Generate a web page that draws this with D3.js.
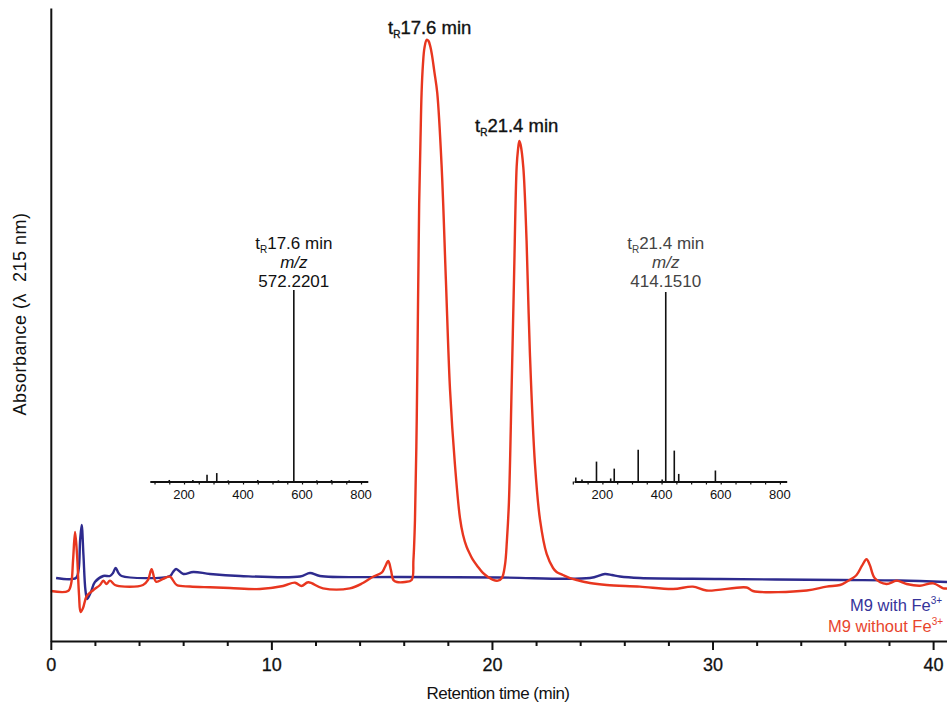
<!DOCTYPE html>
<html>
<head>
<meta charset="utf-8">
<script src="https://cdn.jsdelivr.net/npm/d3@7"></script>
<style>
  html, body { margin: 0; padding: 0; background: #fff; }
  svg { display: block; font-family: "Liberation Sans", Arial, sans-serif; }
</style>
</head>
<body>
<svg id="chart" width="947" height="702"></svg>
<script>
// ---------- DATA ----------
// Chromatogram: [retention time (min), absorbance (arbitrary units)]
const redSeries = [
  [0.00,7.92],[0.78,7.92],[0.92,9.03],[1.01,12.84],[1.10,17.27],[1.19,13.63],[1.28,7.29],[1.35,4.60],
  [1.46,5.23],[1.63,7.13],[1.93,8.08],[2.23,8.87],[2.38,9.56],[2.53,9.03],[2.68,9.56],[2.91,8.87],
  [3.36,8.61],[4.18,8.87],[4.41,9.67],[4.57,11.36],[4.77,9.40],[5.09,9.83],[5.40,10.19],[5.71,8.87],
  [6.31,8.64],[7.22,8.51],[8.12,8.40],[9.48,8.24],[10.53,8.72],[11.07,9.24],[11.37,8.72],[11.67,9.30],
  [12.34,8.35],[13.56,8.35],[14.15,9.19],[14.61,10.19],[15.00,10.82],[15.15,11.73],[15.30,12.68],
  [15.42,11.25],[15.53,9.67],[15.69,9.35],[16.06,9.35],[16.36,9.67],[16.44,12.84],[16.51,19.18],
  [16.59,35.02],[16.65,54.04],[16.70,69.26],[16.76,79.40],[16.81,86.85],[16.87,91.28],[16.94,93.98],
  [17.04,95.25],[17.12,95.09],[17.21,94.14],[17.28,92.87],[17.39,90.17],[17.52,86.85],[17.72,75.12],
  [17.91,57.37],[18.10,39.78],[18.32,28.05],[18.55,19.49],[18.69,16.80],[18.85,14.94],[19.00,13.79],
  [19.14,12.84],[19.37,11.73],[19.59,10.78],[19.82,10.14],[20.05,9.67],[20.27,9.56],[20.45,9.98],
  [20.59,12.04],[20.68,16.01],[20.77,22.03],[20.89,39.78],[21.00,57.37],[21.12,75.12],[21.18,77.81],
  [21.24,79.24],[21.30,78.61],[21.42,75.12],[21.57,63.39],[21.72,45.64],[21.95,28.05],[22.18,19.18],
  [22.48,13.79],[22.77,11.57],[22.93,10.94],[23.22,10.46],[23.54,9.98],[23.85,9.67],[24.44,9.19],
  [25.20,8.87],[26.71,8.61],[28.21,8.24],[29.11,8.61],[29.73,8.00],[31.55,8.48],[31.83,7.92],
  [34.27,8.00],[35.17,8.61],[35.78,8.87],[36.08,9.40],[36.53,10.46],[36.77,11.89],[36.98,12.95],
  [37.13,12.04],[37.36,9.94],[37.89,9.03],[38.35,9.56],[38.80,9.03],[39.40,8.76],[40.01,9.14],
  [40.46,8.35],[40.63,8.32]
];
const blueSeries = [
  [0.24,9.98],[1.14,9.98],[1.26,11.25],[1.33,16.01],[1.40,18.38],[1.48,13.63],[1.57,8.08],[1.65,6.66],
  [1.82,7.77],[2.00,9.35],[2.38,10.30],[2.68,10.30],[2.82,10.78],[2.94,11.57],[3.07,10.78],[3.21,10.30],
  [5.40,10.30],[5.54,10.94],[5.68,11.41],[6.01,10.62],[6.46,10.94],[7.22,10.62],[8.58,10.30],
  [11.30,10.22],[11.75,10.78],[12.20,10.30],[15.83,10.14],[20.36,10.06],[24.44,9.98],[25.12,10.62],
  [25.44,10.46],[25.80,10.22],[26.71,9.98],[30.34,9.83],[35.78,9.67],[38.49,9.59],[40.63,9.35]
];
const xMajorTicks = [0, 10, 20, 30, 40];
const xMinorTicks = [2, 4, 6, 8, 12, 14, 16, 18, 22, 24, 26, 28, 32, 34, 36, 38];

// Mass spectra insets: [m/z, relative intensity]
const spectrum1 = [
  [150,0.8],[230,0.8],[278,3.5],[311,4.4],[350,0.6],[450,0.8],[520,0.6],[572.2201,100],[650,0.6],[700,0.8],[760,0.6]
];
const spectrum2 = [
  [110,2.1],[131,1.0],[180,10.5],[228,1.6],[240,6.8],[321,16.8],[402,1.0],[414.1510,100],[443,16.3],[458,4.0],[582,5.8]
];
const msTickLabels = [200, 400, 600, 800];
const msTicks = d3.range(100, 801, 50);

const peakLabels = [
  {t: 17.6, text: "17.6 min"},
  {t: 21.4, text: "21.4 min"}
];
const insetTexts = [
  {tr: "17.6 min", mz: "572.2201"},
  {tr: "21.4 min", mz: "414.1510"}
];
const legendItems = ["M9 with Fe", "M9 without Fe"];

// ---------- LAYOUT ----------
const RED = "#e8361f", BLUE = "#2e2b8e";
const svg = d3.select("#chart");
const x = d3.scaleLinear().domain([0, 40.63]).range([50.8, 947]);
const y = d3.scaleLinear().domain([0, 100.3]).range([641, 8]);

// lines
const line = d3.line().x(d => x(d[0])).y(d => y(d[1])).curve(d3.curveCatmullRom.alpha(0.5));
svg.append("path").datum(blueSeries).attr("d", line)
  .attr("fill", "none").attr("stroke", BLUE).attr("stroke-width", 2.4).attr("stroke-linejoin", "round");
svg.append("path").datum(redSeries).attr("d", line)
  .attr("fill", "none").attr("stroke", RED).attr("stroke-width", 2.4).attr("stroke-linejoin", "round");

// x axis
const xAxis = svg.append("g").attr("transform", "translate(0,641)")
  .call(d3.axisBottom(x).tickValues(xMajorTicks).tickSize(9).tickPadding(8).tickSizeOuter(0));
xAxis.select(".domain").attr("stroke", "#111").attr("stroke-width", 2);
xAxis.selectAll(".tick line").attr("stroke", "#111").attr("stroke-width", 2);
xAxis.selectAll(".tick text").attr("font-size", 18).attr("fill", "#111")
  .attr("stroke", "#111").attr("stroke-width", 0.3)
  .attr("font-family", "Liberation Sans, Arial, sans-serif");
svg.append("g").attr("transform", "translate(0,641)")
  .call(d3.axisBottom(x).tickValues(xMinorTicks).tickSize(5).tickFormat("").tickSizeOuter(0))
  .call(g => g.select(".domain").remove())
  .selectAll(".tick line").attr("stroke", "#111").attr("stroke-width", 2);

// y axis (line only)
const yAxis = svg.append("g").attr("transform", "translate(50.8,0)")
  .call(d3.axisLeft(y).tickValues([]).tickSizeOuter(0));
yAxis.select(".domain").attr("stroke", "#111").attr("stroke-width", 2);

// axis titles
svg.append("text").attr("x", 498).attr("y", 699).attr("text-anchor", "middle")
  .attr("font-size", 17).attr("letter-spacing", -0.5).attr("fill", "#111").text("Retention time (min)");
svg.append("text").attr("transform", "translate(26,314) rotate(-90)").attr("text-anchor", "middle")
  .attr("font-size", 18).attr("letter-spacing", 0.5).attr("fill", "#111")
  .style("white-space", "pre")
  .text("Absorbance (λ  215 nm)");

// peak labels
const peakPos = [{x: 388, y: 34}, {x: 475, y: 132}];
peakLabels.forEach((p, i) => {
  const t = svg.append("text").attr("x", peakPos[i].x).attr("y", peakPos[i].y)
    .attr("font-size", 18.5).attr("fill", "#111").attr("stroke", "#111").attr("stroke-width", 0.35);
  t.append("tspan").text("t");
  t.append("tspan").attr("font-size", 10).attr("dy", 4).text("R");
  t.append("tspan").attr("dy", -4).text(p.text);
});

// insets
function drawInset(data, domain, range, baseY, topY, textColor, info) {
  const sx = d3.scaleLinear().domain(domain).range(range);
  const sy = d3.scaleLinear().domain([0, 100]).range([baseY, topY]);
  const g = svg.append("g");
  g.selectAll("line.peak").data(data).join("line").attr("class", "peak")
    .attr("x1", d => sx(d[0])).attr("x2", d => sx(d[0]))
    .attr("y1", sy(0)).attr("y2", d => sy(d[1]))
    .attr("stroke", "#111").attr("stroke-width", 1.6);
  const ax = g.append("g").attr("transform", `translate(0,${baseY})`)
    .call(d3.axisBottom(sx).tickValues(msTicks).tickSize(3).tickFormat("").tickSizeOuter(0));
  ax.select(".domain").attr("stroke", "#111").attr("stroke-width", 2);
  ax.selectAll(".tick line").attr("stroke", "#111").attr("stroke-width", 1.2);
  g.selectAll("text.ml").data(msTickLabels).join("text").attr("class", "ml")
    .attr("x", d => sx(d)).attr("y", baseY + 17).attr("text-anchor", "middle")
    .attr("font-size", 13).attr("fill", "#111").text(d => d);
  const cx = sx(info.peak);
  const t1 = g.append("text").attr("x", cx).attr("y", 249).attr("text-anchor", "middle")
    .attr("font-size", 17).attr("fill", textColor);
  t1.append("tspan").text("t");
  t1.append("tspan").attr("font-size", 10).attr("dy", 4).text("R");
  t1.append("tspan").attr("dy", -4).text(info.tr);
  g.append("text").attr("x", cx).attr("y", 268).attr("text-anchor", "middle")
    .attr("font-size", 17).attr("font-style", "italic").attr("fill", textColor).text("m/z");
  g.append("text").attr("x", cx).attr("y", 287).attr("text-anchor", "middle")
    .attr("font-size", 17).attr("fill", textColor).text(info.mz);
}
drawInset(spectrum1, [84, 823], [149.8, 367.8], 481.5, 290, "#111",
  {peak: spectrum1[7][0], tr: insetTexts[0].tr, mz: insetTexts[0].mz});
drawInset(spectrum2, [104, 823], [574, 786.7], 481.5, 292, "#444",
  {peak: spectrum2[7][0], tr: insetTexts[1].tr, mz: insetTexts[1].mz});

// legend
const leg = [{x: 850, y: 611, c: "#35339a"}, {x: 828, y: 632, c: "#e8452d"}];
legendItems.forEach((s, i) => {
  const t = svg.append("text").attr("x", leg[i].x).attr("y", leg[i].y)
    .attr("font-size", 16.5).attr("fill", leg[i].c);
  t.append("tspan").text(s);
  t.append("tspan").attr("font-size", 10).attr("dy", -7).text("3+");
});
</script>
</body>
</html>
